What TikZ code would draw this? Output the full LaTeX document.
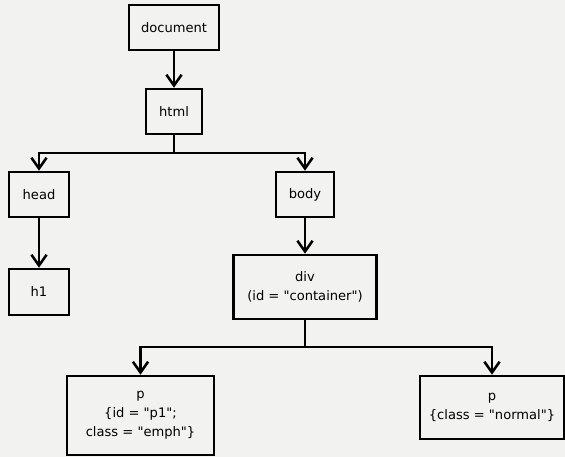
\documentclass[tikz,border=0pt]{standalone}
\usepackage{fontspec}
\setmainfont{DejaVu Sans}
\usetikzlibrary{arrows.meta}
\definecolor{paper}{RGB}{242,242,240}
\newcommand{\dq}{\textquotedbl}
\begin{document}
\begin{tikzpicture}[
      x=0.025cm, y=-0.025cm,
      elem/.style={draw, line width=1.8pt, fill=paper, align=center, inner sep=2pt,
        minimum height=1.125cm, font=\fontsize{9.3}{13.5}\selectfont},
      link/.style={line width=1.8pt, -{Straight Barb[length=0.27cm, width=0.38cm, line width=1.8pt]}}
    ]
      \fill[paper] (0,0) rectangle (565,457);
      \useasboundingbox (0,0) rectangle (565,457);
      % tree of the page
      \node[elem, minimum width=2.25cm] (doc) at (174,27.5) {document};
      \node[elem, minimum width=1.4cm] (html) at (174,111.5) {html};
      \node[elem, minimum width=1.5cm] (head) at (39,194.5) {head};
      \node[elem, minimum width=1.45cm] (body) at (305,194.5) {body};
      \node[elem, minimum width=1.5cm, minimum height=1.15cm] (h1) at (39,292) {h1};
      \node[elem, minimum width=3.575cm, minimum height=1.6cm] (div) at (305,287)
        {div\\(id = \dq container\dq)};
      \node[elem, minimum width=3.675cm, minimum height=1.975cm] (p1) at (140.5,415.5)
        {p\\\{id = \dq p1\dq;\\class = \dq emph\dq\}};
      \node[elem, minimum width=3.6cm, minimum height=1.575cm] (p2) at (492,407.5)
        {p\\\{class = \dq normal\dq\}};
      \coordinate (split1) at (174,153);
      \coordinate (split2) at (305,347);
      % links
      \draw[link] (doc) -- (html);
      \draw[line width=1.8pt] (html.south) -- (split1);
      \draw[link] (split1) -| (head.north);
      \draw[link] (split1) -| (body.north);
      \draw[link] (head) -- (h1);
      \draw[link] (body) -- (div);
      \draw[line width=1.8pt] (div.south) -- (split2);
      \draw[link] (split2) -| (p1.north);
      \draw[link] (split2) -| (p2.north);
    \end{tikzpicture}
\end{document}
